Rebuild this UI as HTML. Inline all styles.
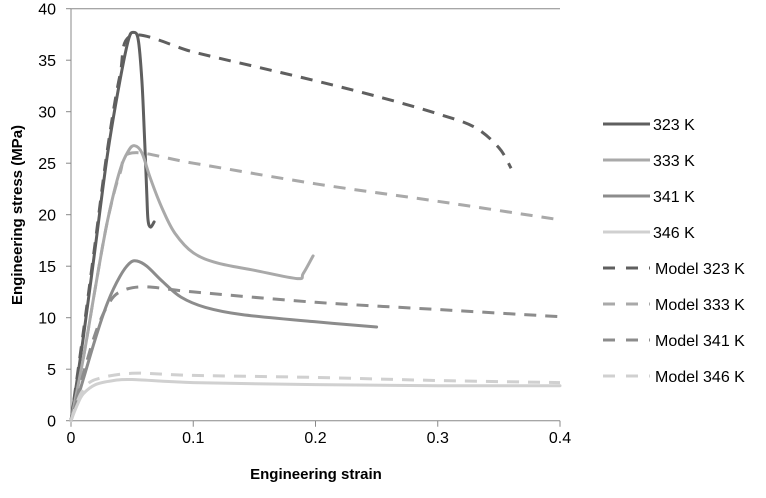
<!DOCTYPE html>
<html><head><meta charset="utf-8"><style>
body{margin:0;background:#fff;width:766px;height:493px;overflow:hidden;font-family:"Liberation Sans",sans-serif}
</style></head><body>
<svg id="chart" width="766" height="493" xmlns="http://www.w3.org/2000/svg"></svg>
<script>
const xTicks=[0,0.1,0.2,0.3,0.4];
const xTickLabels=["0","0.1","0.2","0.3","0.4"];
const yTicks=[0,5,10,15,20,25,30,35,40];
const seriesNames=["323 K","333 K","341 K","346 K","Model 323 K","Model 333 K","Model 341 K","Model 346 K"];
const s323=[[0,0],[0.01,8],[0.02,17],[0.03,26],[0.04,33],[0.047,37],[0.051,37.7],[0.055,37],[0.058,33],[0.06,28],[0.062,22],[0.063,19.5],[0.065,18.8],[0.068,19.3]];
const s333=[[0,0],[0.01,6],[0.02,13],[0.03,19.5],[0.04,24.3],[0.047,26.2],[0.052,26.7],[0.058,26],[0.065,23.5],[0.075,20.5],[0.085,18.2],[0.1,16.3],[0.12,15.3],[0.15,14.6],[0.185,13.8],[0.19,14.3],[0.198,16]];
const s341=[[0,0],[0.01,4],[0.02,8],[0.03,11.5],[0.04,14],[0.048,15.3],[0.054,15.5],[0.062,15],[0.075,13.5],[0.09,12],[0.11,11],[0.14,10.3],[0.2,9.6],[0.25,9.1]];
const s346=[[0,0],[0.005,1.5],[0.01,2.6],[0.02,3.5],[0.035,3.9],[0.05,4],[0.1,3.7],[0.2,3.5],[0.3,3.4],[0.4,3.4]];
const m323=[[0,0],[0.01,8.5],[0.02,17.5],[0.03,26.5],[0.04,33.5],[0.05,37.4],[0.1,35.8],[0.15,34.4],[0.2,33],[0.25,31.5],[0.3,29.8],[0.33,28.5],[0.35,26.5],[0.36,24.5]];
const m333=[[0,0],[0.01,6],[0.02,13],[0.03,19.5],[0.04,24],[0.05,26],[0.1,25],[0.2,23],[0.3,21.3],[0.4,19.5]];
const m341=[[0,0],[0.01,4.5],[0.02,8.5],[0.03,11.2],[0.04,12.5],[0.06,13],[0.1,12.5],[0.2,11.5],[0.3,10.8],[0.4,10.1]];
const m346=[[0,0],[0.005,1.8],[0.01,3],[0.02,4],[0.05,4.6],[0.1,4.4],[0.2,4.2],[0.3,3.9],[0.4,3.7]];
const allSeries=[s323,s333,s341,s346,m323,m333,m341,m346];
const colors=["#5f5f5f","#a9a9a9","#8c8c8c","#d0d0d0","#5f5f5f","#a9a9a9","#8c8c8c","#d0d0d0"];
const X0=71,X1=560,Y0=420.7,Y1=8.7;
const sx=v=>X0+(v-0)/0.4*(X1-X0);
const sy=v=>Y0-(v/40)*(Y0-Y1);
const svg=document.getElementById('chart');
const NS="http://www.w3.org/2000/svg";
function mk(t,a,p){const e=document.createElementNS(NS,t);for(const k in a)e.setAttribute(k,a[k]);(p||svg).appendChild(e);return e;}
function smooth(pts){
 let d='M'+pts[0][0].toFixed(1)+' '+pts[0][1].toFixed(1);
 for(let i=0;i<pts.length-1;i++){
  const p0=pts[Math.max(0,i-1)],p1=pts[i],p2=pts[i+1],p3=pts[Math.min(pts.length-1,i+2)];
  const c1=[p1[0]+(p2[0]-p0[0])/6,p1[1]+(p2[1]-p0[1])/6];
  const c2=[p2[0]-(p3[0]-p1[0])/6,p2[1]-(p3[1]-p1[1])/6];
  d+=' C'+c1.map(v=>v.toFixed(1)).join(' ')+' '+c2.map(v=>v.toFixed(1)).join(' ')+' '+p2.map(v=>v.toFixed(1)).join(' ');
 }
 return d;
}
let e;
e=mk('line',{x1:X0,y1:Y1,x2:X1,y2:Y1,stroke:'#888','stroke-width':1});


e=mk('line',{x1:X0,y1:Y1,x2:X0,y2:Y0,stroke:'#888','stroke-width':1});


e=mk('line',{x1:X0,y1:Y0,x2:X1,y2:Y0,stroke:'#888','stroke-width':1});


yTicks.forEach(v=>{
 e=mk('line',{x1:X0-5,y1:sy(v),x2:X0,y2:sy(v),stroke:'#888'});
 
 
 e=mk('text',{x:X0-15,y:sy(v)+6,'text-anchor':'end','font-size':16,fill:'#000'});e.textContent=v;
 
 
});
xTicks.forEach((v,i)=>{
 e=mk('line',{x1:sx(v),y1:Y0,x2:sx(v),y2:Y0+6,stroke:'#888'});
 
 
 e=mk('text',{x:sx(v),y:443,'text-anchor':'middle','font-size':16,fill:'#000'});e.textContent=xTickLabels[i];
 
 
});
e=mk('text',{x:316,y:479,'text-anchor':'middle','font-size':15,'font-weight':'bold'});e.textContent='Engineering strain';


e=mk('text',{x:0,y:0,'text-anchor':'middle','font-size':15,'font-weight':'bold',transform:'translate(22,215) rotate(-90)'});e.textContent='Engineering stress (MPa)';


allSeries.forEach((s,i)=>{
 const d=smooth(s.map(p=>[sx(p[0]),sy(p[1])]));
 const a={d:d,fill:'none',stroke:colors[i],'stroke-width':3,'stroke-linejoin':'round','stroke-linecap':'round'};
 if(i>=4){a['stroke-dasharray']='12 9';a['stroke-linecap']='butt';}
 e=mk('path',a);
 
 
});
seriesNames.forEach((n,i)=>{
 const y=124+i*36;
 const a={x1:603,y1:y,x2:650,y2:y,stroke:colors[i],'stroke-width':3};
 if(i>=4)a['stroke-dasharray']='12 11';
 e=mk('line',a);
 
 
 e=mk('text',{x:i>=4?655:653,y:y+6,'font-size':16});e.textContent=n;
 
 
});
</script>
</body></html>
